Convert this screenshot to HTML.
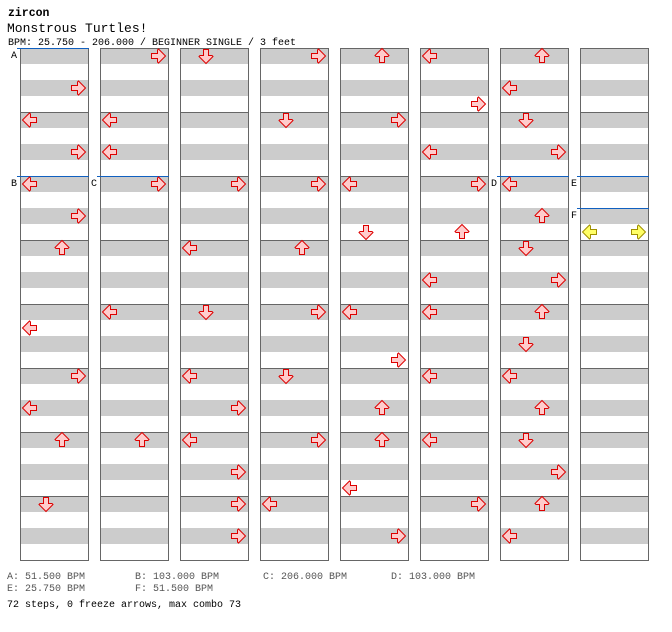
<!DOCTYPE html>
<html><head><meta charset="utf-8"><style>
body{margin:0;background:#fff;width:672px;height:632px;overflow:hidden}
svg{display:block}
text{font-family:"Liberation Mono",monospace}
</style></head><body>
<svg id="s" width="672" height="632" xmlns="http://www.w3.org/2000/svg">
<text x="8" y="16" font-size="11.5" font-weight="bold">zircon</text>
<text x="7" y="32" font-size="13">Monstrous Turtles!</text>
<text x="8" y="45" font-size="10">BPM: 25.750 - 206.000 / BEGINNER SINGLE / 3 feet</text>
<g font-size="10" fill="#555">
<text x="7" y="579">A: 51.500 BPM</text><text x="135" y="579">B: 103.000 BPM</text><text x="263" y="579">C: 206.000 BPM</text><text x="391" y="579">D: 103.000 BPM</text>
<text x="7" y="591">E: 25.750 BPM</text><text x="135" y="591">F: 51.500 BPM</text>
</g>
<text x="7" y="607" font-size="10">72 steps, 0 freeze arrows, max combo 73</text>
<g id="g"></g>
</svg>
<script>
var g=document.getElementById('g'),h='';
var cols=[
[[2,3],[4,0],[6,3],[8,0],[10,3],[12,2],[17,0],[20,3],[22,0],[24,2],[28,1]],
[[0,3],[4,0],[6,0],[8,3],[16,0],[24,2]],
[[0,1],[8,3],[12,0],[16,1],[20,0],[22,3],[24,0],[26,3],[28,3],[30,3]],
[[0,3],[4,1],[8,3],[12,2],[16,3],[20,1],[24,3],[28,0]],
[[0,2],[4,3],[8,0],[11,1],[16,0],[19,3],[22,2],[24,2],[27,0],[30,3]],
[[0,0],[3,3],[6,0],[8,3],[11,2],[14,0],[16,0],[20,0],[24,0],[28,3]],
[[0,2],[2,0],[4,1],[6,3],[8,0],[10,2],[12,1],[14,3],[16,2],[18,1],[20,0],[22,2],[24,1],[26,3],[28,2],[30,0]],
[[11,0,1],[11,3,1]]];
var rot=[0,270,90,180];
for(var c=0;c<8;c++){var x=20+80*c;
for(var r=0;r<32;r++){h+='<rect x="'+x+'" y="'+(48+16*r)+'" width="68" height="16" fill="'+(r%2?'#fff':'#ccc')+'"/>';}
for(var m=1;m<8;m++)h+='<line x1="'+x+'" x2="'+(x+68)+'" y1="'+(48.5+64*m)+'" y2="'+(48.5+64*m)+'" stroke="#666"/>';
h+='<rect x="'+(x+0.5)+'" y="48.5" width="68" height="512" fill="none" stroke="#666"/>';}
function bpm(c,y,l){var x=20+80*c;h+='<line x1="'+(x-3)+'" x2="'+(x+69)+'" y1="'+(y+0.5)+'" y2="'+(y+0.5)+'" stroke="#1060c0"/><text x="'+(x-9)+'" y="'+(y+10)+'" font-size="10">'+l+'</text>';}
bpm(0,48,'A');bpm(0,176,'B');bpm(1,176,'C');bpm(6,176,'D');bpm(7,176,'E');bpm(7,208,'F');
for(var c=0;c<8;c++)cols[c].forEach(function(a){var x=22+80*c+16*a[1],y=48+16*a[0];
var f=a[2]?'#ffff66':'#ffcccc',s=a[2]?'#a09000':'#dd0000';
h+='<g transform="translate('+x+','+y+') rotate('+rot[a[1]]+',8,8)"><polygon points="0.5,8 7.5,1 8.5,2 8.5,5.5 14.5,5.5 14.5,10.5 8.5,10.5 8.5,14 7.5,15" fill="'+f+'" stroke="'+s+'" stroke-width="1"/></g>';});
g.innerHTML=h;
</script>
</body></html>
